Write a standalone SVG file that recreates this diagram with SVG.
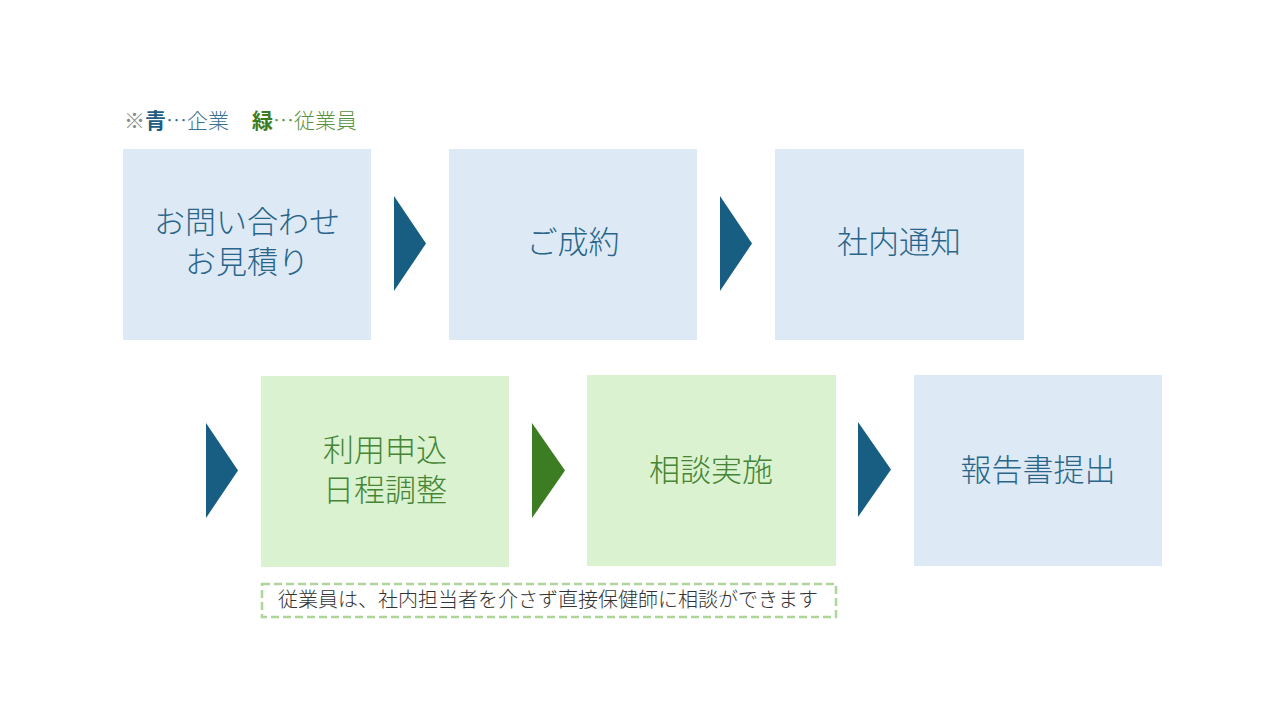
<svg xmlns="http://www.w3.org/2000/svg" width="1280" height="720" viewBox="0 0 1280 720">
<style>
text{font-family:"Noto Sans CJK JP","Noto Sans CJK SC",sans-serif;}
.bb{fill:#DDEAF6;}
.gb{fill:#DAF2D0;}
.bt{fill:#2A6589;font-size:31px;font-weight:300;text-anchor:middle;}
.gt{fill:#458534;font-size:31px;font-weight:300;text-anchor:middle;}
.ba{fill:#185E82;}
.ga{fill:#3C7D23;}
</style>
<rect width="1280" height="720" fill="#FFFFFF"/>
<g id="legend">
<text x="124" y="128" font-size="21" font-weight="300"><tspan fill="#8A8A8A">※</tspan><tspan fill="#1F5C82" font-weight="700">青</tspan><tspan fill="#3A7092">…企業</tspan><tspan fill="#3C7D23" font-weight="700" dx="23">緑</tspan><tspan fill="#5A9140">…従業員</tspan></text>
</g>
<g id="connectors">
<polygon class="ba" points="394,196 426,243.5 394,291"/>
<polygon class="ba" points="720,196 752,243.5 720,291"/>
<polygon class="ba" points="206,423 238,470.5 206,518"/>
<polygon class="ga" points="532,423 565,470.5 532,518"/>
<polygon class="ba" points="858,422 891,469.5 858,517"/>
</g>
<g id="node1">
<rect class="bb" x="123" y="149" width="248" height="191"/>
<text class="bt" x="247" y="233">お問い合わせ<tspan x="247" dy="40">お見積り</tspan></text>
</g>
<g id="node2">
<rect class="bb" x="449" y="149" width="248" height="191"/>
<text class="bt" x="573" y="253">ご成約</text>
</g>
<g id="node3">
<rect class="bb" x="775" y="149" width="249" height="191"/>
<text class="bt" x="899" y="253">社内通知</text>
</g>
<g id="node4">
<rect class="gb" x="261" y="376" width="248" height="191"/>
<text class="gt" x="385" y="461">利用申込<tspan x="385" dy="40">日程調整</tspan></text>
</g>
<g id="node5">
<rect class="gb" x="587" y="375" width="249" height="191"/>
<text class="gt" x="711" y="481">相談実施</text>
</g>
<g id="node6">
<rect class="bb" x="914" y="375" width="248" height="191"/>
<text class="bt" x="1038" y="481">報告書提出</text>
</g>
<g id="note">
<rect x="262" y="584" width="574" height="33" fill="#FFFFFF" stroke="#AED69C" stroke-width="2.5" stroke-dasharray="8 4"/>
<text x="548" y="607" font-size="20" fill="#333333" text-anchor="middle" font-weight="300">従業員は、社内担当者を介さず直接保健師に相談ができます</text>
</g>
</svg>
